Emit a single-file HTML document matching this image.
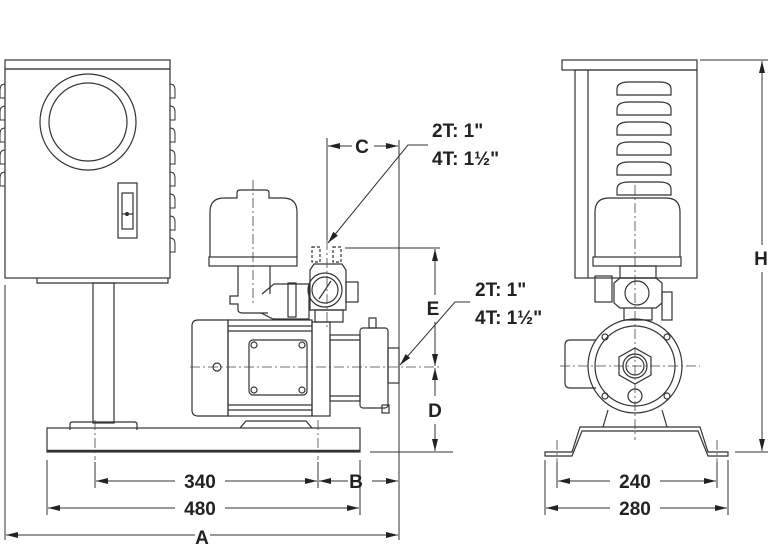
<!DOCTYPE html>
<html><head><meta charset="utf-8"><style>
html,body{margin:0;padding:0;background:#fff;}
svg{display:block;}
text{font-family:"Liberation Sans Narrow","Liberation Sans",sans-serif;font-weight:bold;fill:#222;}
</style></head><body>
<svg width="768" height="544" viewBox="0 0 768 544" xmlns="http://www.w3.org/2000/svg">
<defs>
<marker id="ar" viewBox="0 0 12 6" refX="12" refY="3" markerWidth="12" markerHeight="6" orient="auto-start-reverse" markerUnits="userSpaceOnUse"><path d="M0,0 L12,3 L0,6 z" fill="#222"/></marker>
</defs>
<g fill="none" stroke="#333" stroke-width="1.2">
<!-- LEFT VIEW: control box -->
<rect x="5" y="60" width="165" height="9"/>
<rect x="5" y="69" width="165" height="209"/>
<g stroke-width="1">
<path d="M5,84 q-5,0 -5,6 v8 h5 M5,106 q-5,0 -5,6 v8 h5 M5,128 q-5,0 -5,6 v8 h5 M5,150 q-5,0 -5,6 v8 h5 M5,172 q-5,0 -5,6 v8 h5"/>
<path d="M170,84 q5,0 5,6 v8 h-5 M170,106 q5,0 5,6 v8 h-5 M170,128 q5,0 5,6 v8 h-5 M170,150 q5,0 5,6 v8 h-5 M170,172 q5,0 5,6 v8 h-5 M170,194 q5,0 5,6 v8 h-5 M170,216 q5,0 5,6 v8 h-5 M170,238 q5,0 5,6 v8 h-5"/>
</g>
<circle cx="88" cy="122" r="48"/>
<circle cx="88" cy="122" r="39"/>
<rect x="118" y="183" width="19" height="55"/>
<rect x="122" y="193" width="11" height="36"/>
<line x1="122" y1="214" x2="133" y2="214"/>
<circle cx="127" cy="214" r="1.5" fill="#333"/>
<path d="M37,278 v5 h131 v-5"/>
<rect x="93" y="283" width="21" height="140"/>
<path d="M70,430 v-6 q0,-2 3,-2 h61 q3,0 3,2 v6"/>
<!-- base -->
<rect x="47" y="428" width="313" height="24"/>
<line x1="47" y1="451" x2="360" y2="451" stroke-width="2.5"/>
<!-- pressure tank -->
<path d="M210,257 v-45 q0,-14 14,-14 h13 v-5 q0,-3 3,-3 h26 q3,0 3,3 v5 h14 q14,0 14,14 v45"/>
<rect x="209" y="257" width="88" height="9"/>
<path d="M238,266 v30 h-8 v8 h8 v6 q0,3 5,3 h25 M270,266 v28"/>
<path d="M262,294 l12,-10 h35 v35 h-36 l-12,-6"/>
<rect x="288" y="283" width="8" height="34"/>
<!-- valve -->
<rect x="312" y="247" width="8" height="15" stroke-dasharray="3,2"/>
<rect x="333" y="247" width="8" height="15" stroke-dasharray="3,2"/>
<path d="M310,270 l4,-6 h28 l4,6 v40 h-36 z"/>
<rect x="346" y="282" width="12" height="20"/>
<circle cx="325" cy="290" r="17"/>
<circle cx="325" cy="290" r="13"/>
<line x1="319" y1="299" x2="331" y2="281"/>
<path d="M315,310 h28 v12 h-28 z"/>
<!-- motor -->
<path d="M198,320 h30 v96 h-30 q-6,0 -6,-6 v-84 q0,-6 6,-6 z"/>
<rect x="228" y="320" width="84" height="96"/>
<line x1="228" y1="326" x2="312" y2="326"/><line x1="228" y1="331" x2="312" y2="331"/>
<line x1="228" y1="405" x2="312" y2="405"/><line x1="228" y1="410" x2="312" y2="410"/>
<rect x="249" y="340" width="58" height="55" rx="4"/>
<circle cx="254" cy="345" r="3"/><circle cx="302" cy="345" r="3"/><circle cx="254" cy="390" r="3"/><circle cx="302" cy="390" r="3"/>
<circle cx="217" cy="367" r="4"/>
<path d="M240,428 l6,-7 h60 l6,7"/>
<!-- pump body -->
<rect x="312" y="322" width="18" height="94"/>
<rect x="330" y="335" width="30" height="66"/>
<line x1="330" y1="340" x2="360" y2="340"/><line x1="330" y1="396" x2="360" y2="396"/>
<rect x="360" y="328" width="28" height="80" rx="3"/>
<rect x="388" y="348" width="11" height="35"/>
<rect x="369" y="318" width="7" height="10"/>
<rect x="382" y="405" width="7" height="8"/>
<!-- RIGHT VIEW -->
<rect x="562" y="60" width="135" height="10"/>
<rect x="575" y="70" width="122" height="208"/>
<line x1="588" y1="70" x2="588" y2="278"/>
<g>
<path d="M617,95 v-6 q0,-7 12,-7 h30 q12,0 12,7 v6 z"/>
<path d="M617,115 v-6 q0,-7 12,-7 h30 q12,0 12,7 v6 z"/>
<path d="M617,135 v-6 q0,-7 12,-7 h30 q12,0 12,7 v6 z"/>
<path d="M617,155 v-6 q0,-7 12,-7 h30 q12,0 12,7 v6 z"/>
<path d="M617,175 v-6 q0,-7 12,-7 h30 q12,0 12,7 v6 z"/>
<path d="M617,195 v-6 q0,-7 12,-7 h30 q12,0 12,7 v6 z"/>
</g>
<path d="M595,257 v-45 q0,-14 14,-14 h57 q14,0 14,14 v45" fill="#fff"/>
<rect x="593" y="257" width="88" height="9"/>
<rect x="595" y="276" width="17" height="26"/>
<path d="M620,266 h36 v12 h-36 z"/>
<path d="M614,283 l6,-5 h36 l6,5 v20 l-6,5 h-36 l-6,-5 z"/>
<circle cx="637" cy="293" r="12"/>
<path d="M624,308 v12 h28 v-12"/>
<rect x="662" y="292" width="10" height="28"/>
<circle cx="635" cy="366" r="47"/>
<circle cx="635" cy="366" r="40"/>
<polygon points="635,348 651,357 651,375 635,384 619,375 619,357"/>
<circle cx="635" cy="366" r="12"/><circle cx="635" cy="366" r="9"/>
<circle cx="635" cy="396" r="7"/>
<circle cx="605" cy="337" r="3"/><circle cx="667" cy="337" r="3"/><circle cx="605" cy="396" r="3"/><circle cx="667" cy="396" r="3"/>
<path d="M596,340 h-26 q-5,0 -5,5 v38 q0,5 5,5 h26"/>
<path d="M608,410 l-5,17 M662,410 l5,17"/>
<path d="M545,456 v-4 h27 l8,-25 h120 l8,25 h20 v4 h-20 l-10,-25 h-116 l-10,25 z"/>
</g>
<!-- centerlines -->
<g stroke="#444" stroke-width="0.8" stroke-dasharray="10,3,2,3" fill="none">
<line x1="190" y1="367" x2="440" y2="367"/>
<line x1="253" y1="180" x2="253" y2="305"/>
<line x1="327" y1="240" x2="327" y2="330"/>
<line x1="635" y1="185" x2="635" y2="440"/>
<line x1="560" y1="366" x2="700" y2="366"/>
<line x1="95" y1="420" x2="95" y2="460"/><line x1="318" y1="420" x2="318" y2="460"/>
<line x1="557" y1="440" x2="557" y2="470"/><line x1="717" y1="440" x2="717" y2="470"/>
</g>
<!-- dimension lines -->
<g stroke="#333" stroke-width="1" fill="none">
<line x1="5" y1="285" x2="5" y2="540"/>
<line x1="399" y1="140" x2="399" y2="540"/>
<line x1="327" y1="138" x2="327" y2="240"/>
<line x1="47" y1="460" x2="47" y2="515"/><line x1="360" y1="460" x2="360" y2="515"/>
<line x1="95" y1="462" x2="95" y2="488"/><line x1="318" y1="462" x2="318" y2="488"/>
<line x1="545" y1="460" x2="545" y2="515"/><line x1="728" y1="460" x2="728" y2="515"/>
<line x1="557" y1="462" x2="557" y2="488"/><line x1="717" y1="462" x2="717" y2="488"/>
<line x1="345" y1="248" x2="440" y2="248"/>
<line x1="250" y1="452" x2="300" y2="452"/><line x1="370" y1="452" x2="453" y2="452"/>
<line x1="700" y1="60" x2="768" y2="60"/><line x1="735" y1="452" x2="768" y2="452"/>
<g marker-end="url(#ar)">
<line x1="352" y1="146" x2="328" y2="146"/><line x1="374" y1="146" x2="398" y2="146"/>
<line x1="435" y1="295" x2="435" y2="249"/><line x1="435" y1="322" x2="435" y2="366"/>
<line x1="435" y1="396" x2="435" y2="368"/><line x1="435" y1="424" x2="435" y2="451"/>
<line x1="175" y1="481" x2="96" y2="481"/><line x1="225" y1="481" x2="317" y2="481"/>
<line x1="348" y1="481" x2="319" y2="481"/><line x1="372" y1="481" x2="398" y2="481"/>
<line x1="175" y1="508" x2="48" y2="508"/><line x1="225" y1="508" x2="359" y2="508"/>
<line x1="195" y1="535" x2="6" y2="535"/><line x1="210" y1="535" x2="398" y2="535"/>
<line x1="610" y1="481" x2="558" y2="481"/><line x1="660" y1="481" x2="716" y2="481"/>
<line x1="610" y1="508" x2="546" y2="508"/><line x1="660" y1="508" x2="727" y2="508"/>
<line x1="762" y1="245" x2="762" y2="61"/><line x1="762" y1="272" x2="762" y2="451"/>
</g>
<polyline points="428,145 408,145 328,243" marker-end="url(#ar)"/>
<polyline points="470,302 455,302 400,365" marker-end="url(#ar)"/>
</g>
<!-- labels -->
<g font-size="19">
<text x="362" y="153" text-anchor="middle">C</text>
<text x="432" y="137">2T: 1"</text>
<text x="432" y="165">4T: 1½"</text>
<text x="475" y="296">2T: 1"</text>
<text x="475" y="324">4T: 1½"</text>
<text x="433" y="315" text-anchor="middle">E</text>
<text x="435" y="417" text-anchor="middle">D</text>
<text x="200" y="488" text-anchor="middle">340</text>
<text x="356" y="488" text-anchor="middle">B</text>
<text x="200" y="515" text-anchor="middle">480</text>
<text x="202" y="544" text-anchor="middle">A</text>
<text x="635" y="488" text-anchor="middle">240</text>
<text x="635" y="515" text-anchor="middle">280</text>
<text x="761" y="265" text-anchor="middle">H</text>
</g>
</svg>
</body></html>
